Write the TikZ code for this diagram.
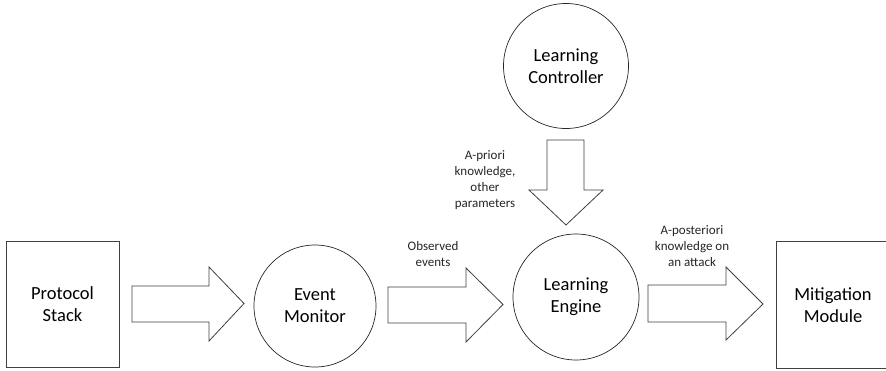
\documentclass[tikz,border=0pt]{standalone}
\usepackage{fontspec}
\setmainfont{Carlito}
\begin{document}
\begin{tikzpicture}[x=1pt,y=-1pt,
  blk/.style={draw=black!75, line width=0.9pt, fill=white},
  circ/.style={circle, draw=black!85, line width=0.7pt, minimum size=126pt, inner sep=0pt, align=center, font=\fontsize{18.5}{22}\selectfont},
  boxlbl/.style={align=center, font=\fontsize{18.5}{22}\selectfont},
  small/.style={align=center, font=\fontsize{13}{16}\selectfont, text=black!85},
  barrow/.style={draw=black!75, line width=0.8pt, fill=white, line join=miter}]
\useasboundingbox (0,0) rectangle (886,370);
\clip (0,0) rectangle (886,370);
% boxes
\draw[blk] (6,241) rectangle (119,367);
\node[boxlbl] (ps) at (62.5,304) {Protocol\\Stack};
\draw[blk] (776,241) rectangle (889,368);
\node[boxlbl] (mm) at (833,305) {Mitigation\\Module};
% circles
\node[circ, minimum size=122pt] (em) at (315,306) {Event\\Monitor};
\node[circ] (le) at (576,297) {Learning\\Engine};
\node[circ, minimum size=125pt] (lc) at (566,66) {Learning\\Controller};
% block arrows
\draw[barrow] (132,286) -- (209,286) -- (209,267) -- (244,303.5) -- (209,341) -- (209,322) -- (132,322) -- cycle;
\draw[barrow] (388,287) -- (466,287) -- (466,268) -- (503,304.5) -- (466,342) -- (466,323) -- (388,323) -- cycle;
\draw[barrow] (648,285) -- (726,285) -- (726,267) -- (763,304) -- (726,340) -- (726,322) -- (648,322) -- cycle;
\draw[barrow] (547,140) -- (584,140) -- (584,190) -- (603,190) -- (566,225) -- (529,190) -- (547,190) -- cycle;
% labels
\node[small] (l1) at (485,180) {A-priori\\knowledge,\\other\\parameters};
\node[small] (l2) at (433,254) {Observed\\events};
\node[small] (l3) at (692,246) {A-posteriori\\knowledge on\\an attack};
\end{tikzpicture}
\end{document}
